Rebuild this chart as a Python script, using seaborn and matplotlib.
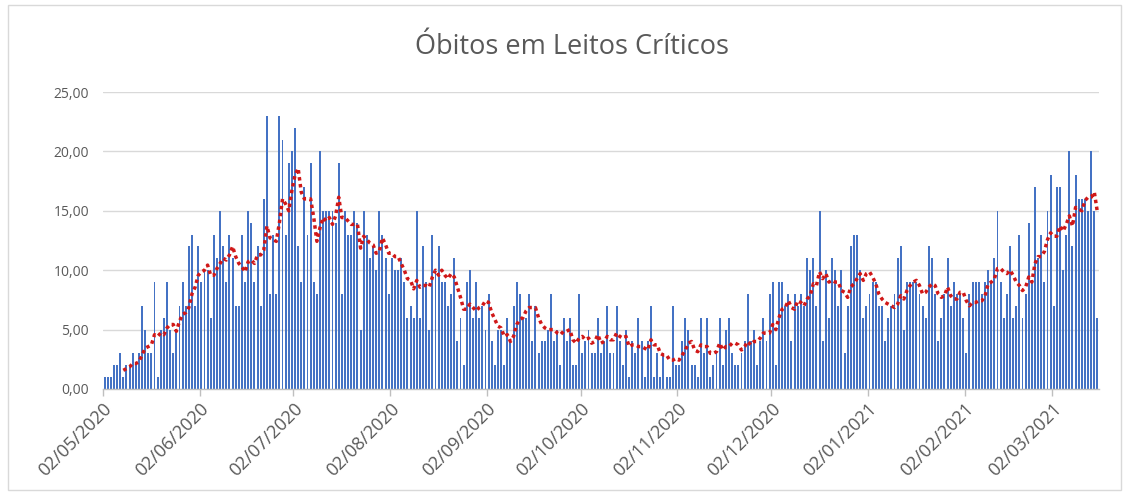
import numpy as np
import pandas as pd
import matplotlib
matplotlib.use("Agg")
import matplotlib.pyplot as plt
from matplotlib.ticker import FuncFormatter, FixedLocator
from matplotlib.patches import Rectangle
import seaborn as sns

start_date = "2020-05-02"
deaths = [
    1, 1, 1, 2, 2, 3, 1, 2, 2, 3, 2, 3, 7, 5, 3, 3, 9, 1, 5, 6, 9, 5, 3, 5, 7, 9, 7, 12,
    13, 7, 12, 9, 10, 10, 6, 13, 11, 15, 12, 9, 13, 11, 7, 7, 13, 9, 15, 14, 9, 12, 7, 16, 23, 8,
    13, 8, 23, 21, 13, 19, 20, 22, 12, 9, 17, 13, 19, 9, 8, 20, 15, 15, 15, 15, 14, 19, 8, 15, 13, 13,
    15, 14, 5, 15, 13, 11, 12, 10, 15, 13, 11, 8, 11, 10, 10, 11, 9, 6, 7, 6, 15, 6, 12, 9, 5, 13, 10,
    12, 9, 9, 7, 8, 11, 4, 6, 2, 9, 10, 6, 9, 6, 7, 5, 8, 4, 2, 5, 5, 2, 6, 4, 7, 9, 8, 6,
    6, 8, 4, 7, 3, 4, 4, 5, 8, 4, 5, 2, 6, 4, 6, 2, 2, 8, 3, 4, 5, 3, 3, 6, 3, 4, 7,
    3, 3, 7, 4, 2, 5, 1, 4, 3, 6, 4, 1, 4, 7, 1, 3, 1, 3, 1, 1, 7, 2, 2, 4, 6, 5, 2,
    2, 1, 6, 3, 6, 1, 2, 3, 6, 2, 5, 6, 3, 2, 2, 3, 4, 8, 4, 5, 2, 4, 6, 4, 8,
    9, 2, 9, 9, 7, 8, 4, 8, 7, 8, 7, 11, 10, 11, 7, 15, 4, 10, 6, 11, 10, 7, 10, 3, 7, 12, 13,
    13, 10, 6, 7, 8, 9, 9, 7, 7, 4, 6, 7, 8, 11, 12, 5, 9, 9, 9, 9, 8, 7, 6, 12, 11, 8, 4,
    6, 8, 11, 7, 9, 8, 8, 6, 3, 8, 9, 9, 9, 8, 9, 10, 9, 11, 15, 9, 6, 8, 12, 6, 7, 13, 6,
    8, 14, 9, 17, 11, 13, 9, 15, 18, 7, 17, 17, 10, 13, 20, 12, 18, 16, 16, 16, 15, 20, 15, 6,
]
title = "Óbitos em Leitos Críticos"
ma_window = 7

dates = pd.date_range(start_date, periods=len(deaths), freq="D")
df = pd.DataFrame({"day": np.arange(len(deaths)), "date": dates, "value": deaths})
df["ma"] = df["value"].rolling(ma_window).mean()

sns.set_theme(style="white")
plt.rcParams["font.family"] = ["Open Sans", "DejaVu Sans"]

fig = plt.figure(figsize=(11.29, 4.99), dpi=100)
ax = fig.add_axes([103 / 1129, 1 - 389 / 499, (1099 - 103) / 1129, (389 - 92) / 499])

sns.barplot(data=df, x="day", y="value", native_scale=True, color="#4472C4",
            saturation=1, width=0.62, errorbar=None, linewidth=0, ax=ax, zorder=2)
sns.lineplot(data=df, x="day", y="ma", color="#D01818", linewidth=2.5,
             linestyle=(0, (1.0, 1.0)), dash_capstyle="butt", ax=ax, zorder=3)

ax.set_xlim(-0.5, len(deaths) - 0.5)
ax.set_ylim(0, 25)
ax.set_yticks(np.arange(0, 26, 5))
ax.yaxis.set_major_formatter(FuncFormatter(lambda v, p: f"{v:.2f}".replace(".", ",")))
ax.grid(axis="y", color="#D9D9D9", linewidth=1, zorder=0)
ax.set_axisbelow(True)

tick_mask = df["date"].dt.day == 2
tick_pos = (df.loc[tick_mask, "day"] - 0.5).tolist()
tick_lab = df.loc[tick_mask, "date"].dt.strftime("%d/%m/%Y").tolist()
ax.xaxis.set_major_locator(FixedLocator(tick_pos))
ax.set_xticklabels(tick_lab, rotation=45, ha="right", rotation_mode="anchor",
                   fontsize=13, color="#595959")
ax.tick_params(axis="x", length=5, width=1, color="#BFBFBF", direction="out", pad=3, bottom=True)
ax.tick_params(axis="y", length=0, labelsize=10, labelcolor="#595959", pad=10)

for s in ["top", "right", "left"]:
    ax.spines[s].set_visible(False)
ax.spines["bottom"].set_color("#BFBFBF")
ax.spines["bottom"].set_linewidth(1)
ax.spines["bottom"].set_zorder(4)

ax.set_xlabel("")
ax.set_ylabel("")
fig.text(572 / 1129, 1 - 47 / 499, title, ha="center", va="center", fontsize=19.5, color="#595959")

fig.add_artist(Rectangle((8 / 1129, 1 - 490 / 499), 1113 / 1129, 485 / 499,
                         transform=fig.transFigure, fill=False, edgecolor="#D9D9D9", linewidth=1))

fig.savefig("out.png", dpi=100)
